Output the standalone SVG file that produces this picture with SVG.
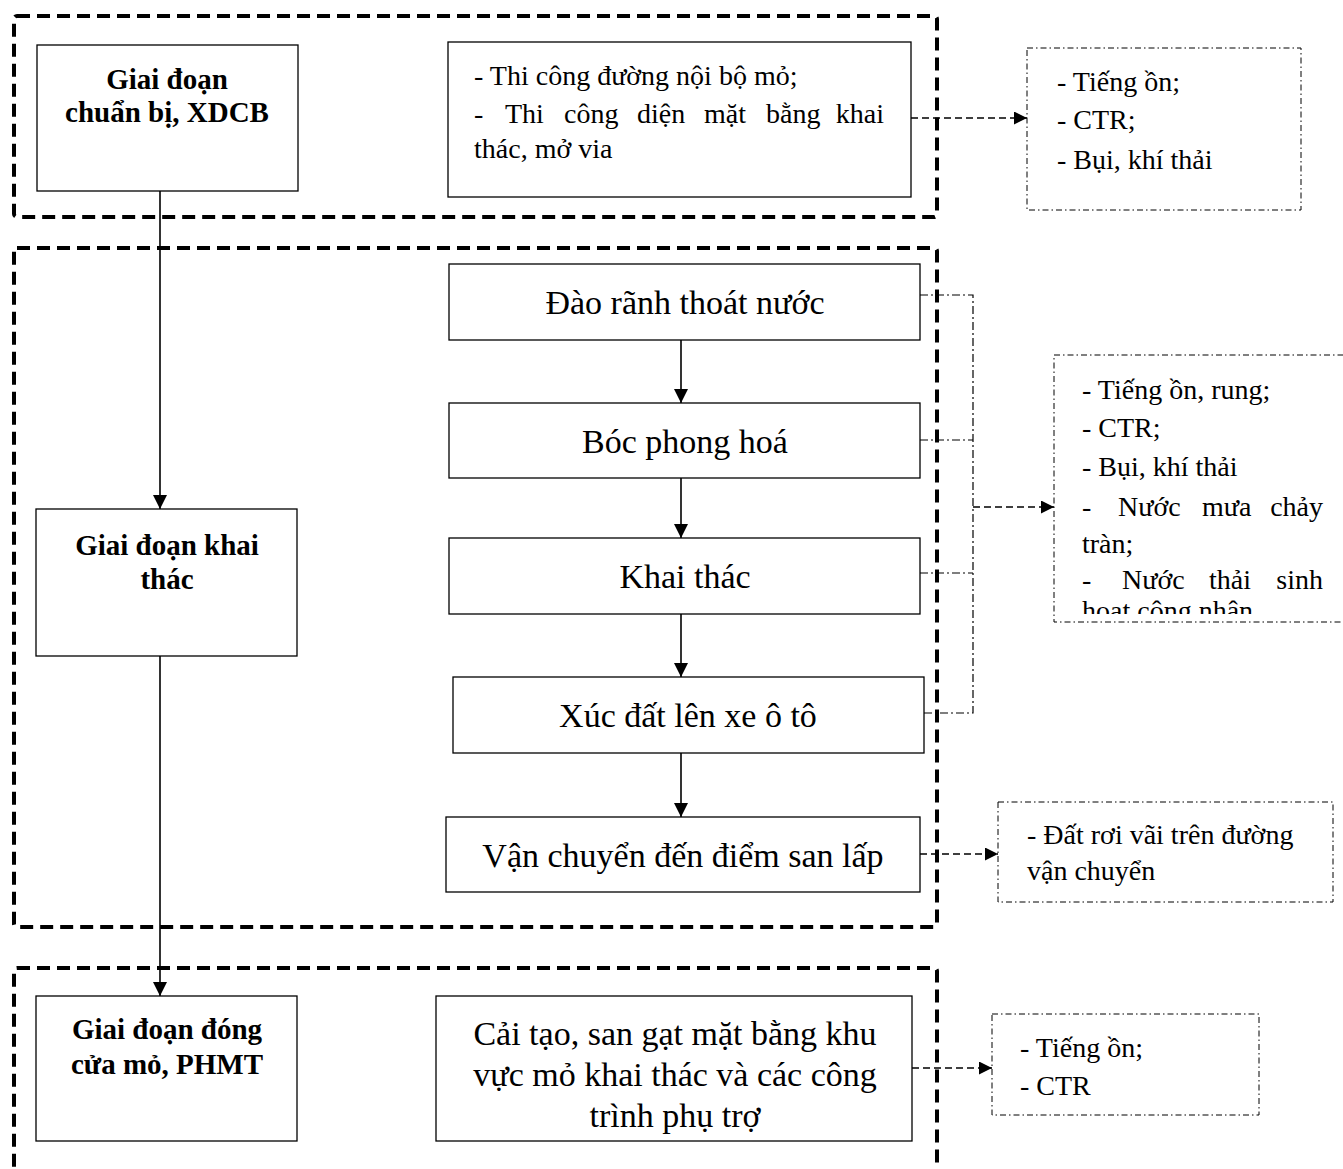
<svg xmlns="http://www.w3.org/2000/svg" width="1343" height="1169" viewBox="0 0 1343 1169">
<style>
  text { font-family: "Liberation Serif", "Times New Roman", serif; fill: #000; }
  .bold { font-weight: bold; font-size: 29px; text-anchor: middle; }
  .flow { font-size: 34px; text-anchor: middle; }
  .eff { font-size: 28px; }
  .box { fill: #fff; stroke: #000; stroke-width: 1.3; }
  .group { fill: none; stroke: #000; stroke-width: 4; stroke-dasharray: 13 7; }
  .effbox { fill: #fff; stroke: #000; stroke-width: 1; stroke-dasharray: 6 3 1.5 3; }
  .solid { fill: none; stroke: #000; stroke-width: 1.6; }
  .dash { fill: none; stroke: #000; stroke-width: 1.6; stroke-dasharray: 7 4; }
  .dashdot { fill: none; stroke: #000; stroke-width: 1.2; stroke-dasharray: 8 3 2 3; }
</style>
<defs>
  <marker id="arr" viewBox="0 0 10 10" refX="10" refY="5" markerWidth="14" markerHeight="13" markerUnits="userSpaceOnUse" orient="auto">
    <path d="M0,0 L10,5 L0,10 Z" fill="#000"/>
  </marker>
  <marker id="arrS" viewBox="0 0 10 10" refX="10" refY="5" markerWidth="15" markerHeight="14" markerUnits="userSpaceOnUse" orient="auto">
    <path d="M0,0 L10,5 L0,10 Z" fill="#000"/>
  </marker>
  <clipPath id="clipG2"><rect x="1054" y="355" width="300" height="259"/></clipPath>
</defs>
<rect width="1343" height="1169" fill="#fff"/>

<g id="groups">
  <rect class="group" x="14" y="16" width="923" height="201" rx="3"/>
  <rect class="group" x="14" y="248" width="923" height="679" rx="3"/>
  <rect class="group" x="14" y="968" width="923" height="230" rx="3"/>
</g>

<g id="connectors">
  <line class="solid" x1="160" y1="191" x2="160" y2="509" marker-end="url(#arrS)"/>
  <line class="solid" x1="160" y1="656" x2="160" y2="996" marker-end="url(#arrS)"/>
  <line class="solid" x1="681" y1="340" x2="681" y2="403" marker-end="url(#arrS)"/>
  <line class="solid" x1="681" y1="478" x2="681" y2="538" marker-end="url(#arrS)"/>
  <line class="solid" x1="681" y1="614" x2="681" y2="677" marker-end="url(#arrS)"/>
  <line class="solid" x1="681" y1="753" x2="681" y2="817" marker-end="url(#arrS)"/>
  <line class="dash" x1="911" y1="118" x2="1027" y2="118" marker-end="url(#arr)"/>
  <polyline class="dashdot" points="920,295 973,295 973,713 924,713"/>
  <line class="dashdot" x1="920" y1="440" x2="973" y2="440"/>
  <line class="dashdot" x1="920" y1="573" x2="973" y2="573"/>
  <line class="dash" x1="973" y1="507" x2="1054" y2="507" marker-end="url(#arr)"/>
  <line class="dash" x1="920" y1="854" x2="998" y2="854" marker-end="url(#arr)"/>
  <line class="dash" x1="912" y1="1068" x2="992" y2="1068" marker-end="url(#arr)"/>
</g>

<g id="node-chuanbi">
  <rect class="box" x="37" y="45" width="261" height="146"/>
  <text class="bold" x="167" y="89">Giai đoạn</text>
  <text class="bold" x="167" y="122">chuẩn bị, XDCB</text>
</g>

<g id="node-thicong">
  <rect class="box" x="448" y="42" width="463" height="155"/>
  <text class="eff" x="474" y="85">- Thi công đường nội bộ mỏ;</text>
  <text class="eff" y="123"><tspan x="474">-</tspan><tspan x="505">Thi</tspan><tspan x="564">công</tspan><tspan x="637">diện</tspan><tspan x="704">mặt</tspan><tspan x="766">bằng</tspan><tspan x="884" text-anchor="end">khai</tspan></text>
  <text class="eff" x="474" y="158">thác, mở via</text>
</g>

<g id="node-khaithac-phase">
  <rect class="box" x="36" y="509" width="261" height="147"/>
  <text class="bold" x="167" y="555">Giai đoạn khai</text>
  <text class="bold" x="167" y="589">thác</text>
</g>

<g id="node-dongcua">
  <rect class="box" x="36" y="996" width="261" height="145"/>
  <text class="bold" x="167" y="1039">Giai đoạn đóng</text>
  <text class="bold" x="167" y="1074">cửa mỏ, PHMT</text>
</g>

<g id="node-caitao">
  <rect class="box" x="436" y="996" width="476" height="145"/>
  <text class="flow" x="675" y="1045">Cải tạo, san gạt mặt bằng khu</text>
  <text class="flow" x="675" y="1086">vực mỏ khai thác và các công</text>
  <text class="flow" x="675" y="1127">trình phụ trợ</text>
</g>

<g id="node-daoranh">
  <rect class="box" x="449" y="264" width="471" height="76"/>
  <text class="flow" x="685" y="314">Đào rãnh thoát nước</text>
</g>
<g id="node-bocphonghoa">
  <rect class="box" x="449" y="403" width="471" height="75"/>
  <text class="flow" x="685" y="453">Bóc phong hoá</text>
</g>
<g id="node-khaithac">
  <rect class="box" x="449" y="538" width="471" height="76"/>
  <text class="flow" x="685" y="588">Khai thác</text>
</g>
<g id="node-xucdat">
  <rect class="box" x="453" y="677" width="471" height="76"/>
  <text class="flow" x="688" y="727">Xúc đất lên xe ô tô</text>
</g>
<g id="node-vanchuyen">
  <rect class="box" x="446" y="817" width="474" height="75"/>
  <text class="flow" x="683" y="867">Vận chuyển đến điểm san lấp</text>
</g>

<g id="effect-1">
  <rect class="effbox" x="1027" y="48" width="274" height="162"/>
  <text class="eff" x="1057" y="91">- Tiếng ồn;</text>
  <text class="eff" x="1057" y="129">- CTR;</text>
  <text class="eff" x="1057" y="169">- Bụi, khí thải</text>
</g>

<g id="effect-2">
  <rect class="effbox" x="1054" y="355" width="300" height="267"/>
  <g clip-path="url(#clipG2)">
    <text class="eff" x="1082" y="399">- Tiếng ồn, rung;</text>
    <text class="eff" x="1082" y="437">- CTR;</text>
    <text class="eff" x="1082" y="476">- Bụi, khí thải</text>
    <text class="eff" y="516"><tspan x="1082">-</tspan><tspan x="1118">Nước</tspan><tspan x="1202">mưa</tspan><tspan x="1323" text-anchor="end">chảy</tspan></text>
    <text class="eff" x="1082" y="553">tràn;</text>
    <text class="eff" y="589"><tspan x="1082">-</tspan><tspan x="1122">Nước</tspan><tspan x="1209">thải</tspan><tspan x="1323" text-anchor="end">sinh</tspan></text>
    <text class="eff" x="1082" y="620">hoạt công nhân</text>
  </g>
</g>

<g id="effect-3">
  <rect class="effbox" x="998" y="802" width="335" height="100"/>
  <text class="eff" x="1027" y="844">- Đất rơi vãi trên đường</text>
  <text class="eff" x="1027" y="880">vận chuyển</text>
</g>

<g id="effect-4">
  <rect class="effbox" x="992" y="1014" width="267" height="101"/>
  <text class="eff" x="1020" y="1057" font-size="26">- Tiếng ồn;</text>
  <text class="eff" x="1020" y="1095" font-size="26">- CTR</text>
</g>
</svg>
